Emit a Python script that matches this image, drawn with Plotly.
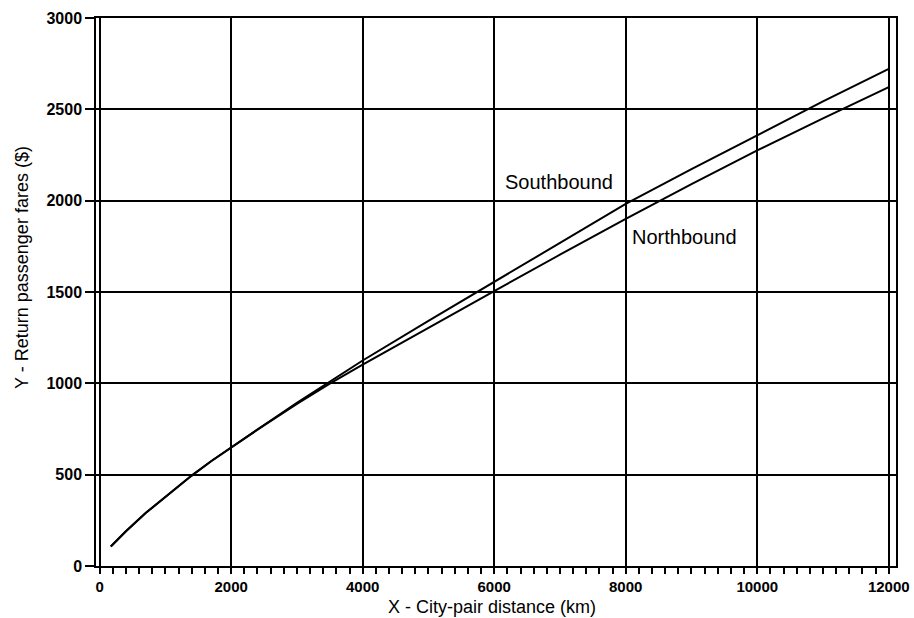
import plotly.graph_objects as go

# City-pair distance (km) and return fares ($)
distance_km = [170, 400, 700, 1000, 1400, 1700, 2000, 2500, 3000, 3500, 4000,
               5000, 6000, 7000, 8000, 9000, 10000, 11000, 12000]
southbound = [107, 190, 290, 380, 495, 575, 650, 772, 893, 1010, 1125,
              1342, 1555, 1770, 1982, 2173, 2360, 2543, 2722]
northbound = [107, 190, 290, 380, 495, 575, 650, 770, 888, 998, 1102,
              1305, 1505, 1704, 1900, 2090, 2275, 2450, 2622]

x_ticks = [0, 2000, 4000, 6000, 8000, 10000, 12000]
y_ticks = [0, 500, 1000, 1500, 2000, 2500, 3000]

FONT = "Liberation Sans, Arial, sans-serif"

fig = go.Figure()
fig.add_trace(go.Scatter(x=distance_km, y=southbound, mode="lines", name="Southbound",
                         line=dict(color="black", width=2)))
fig.add_trace(go.Scatter(x=distance_km, y=northbound, mode="lines", name="Northbound",
                         line=dict(color="black", width=2)))

fig.add_annotation(x=6129, y=2102, text="Southbound", showarrow=False,
                   xanchor="left", yanchor="middle",
                   font=dict(family=FONT, size=20, color="black"))
fig.add_annotation(x=8061, y=1801, text="Northbound", showarrow=False,
                   xanchor="left", yanchor="middle",
                   font=dict(family=FONT, size=20, color="black"))

# Axis titles
fig.add_annotation(xref="paper", yref="paper", x=0.495, y=-0.0949,
                   text="X - City-pair distance (km)", showarrow=False,
                   xanchor="center", yanchor="bottom", borderpad=0,
                   font=dict(family=FONT, size=18, color="black"))
fig.add_annotation(xref="paper", yref="paper", x=-0.0925, y=0.544,
                   text="Y - Return passenger fares ($)", showarrow=False,
                   textangle=-90, xanchor="center", yanchor="middle",
                   font=dict(family=FONT, size=18, color="black"))

fig.update_xaxes(range=[-55, 12110], tickvals=x_ticks,
                 ticktext=[str(v) for v in x_ticks],
                 showgrid=True, gridcolor="black", gridwidth=1.5,
                 zeroline=False, showline=True, linecolor="black", linewidth=1.5,
                 mirror=True, ticks="outside", ticklen=6, tickwidth=1.5,
                 tickcolor="black",
                 minor=dict(dtick=200, tick0=0, ticks="outside", ticklen=6,
                            tickwidth=1.5, tickcolor="black", showgrid=False),
                 tickfont=dict(family=FONT, size=15, color="black", weight="bold"))
fig.update_yaxes(range=[0, 3000], tickvals=y_ticks,
                 ticktext=[str(v) for v in y_ticks],
                 showgrid=True, gridcolor="black", gridwidth=1.5,
                 zeroline=False, showline=True, linecolor="black", linewidth=1.5,
                 mirror=True, ticks="outside", ticklen=9, tickwidth=1.5,
                 tickcolor="black",
                 tickfont=dict(family=FONT, size=16, color="black", weight="bold"))

fig.update_layout(width=914, height=618, showlegend=False,
                  margin=dict(l=96, r=18, t=18, b=52, autoexpand=False),
                  plot_bgcolor="white", paper_bgcolor="white")

fig.write_html("out.html")
